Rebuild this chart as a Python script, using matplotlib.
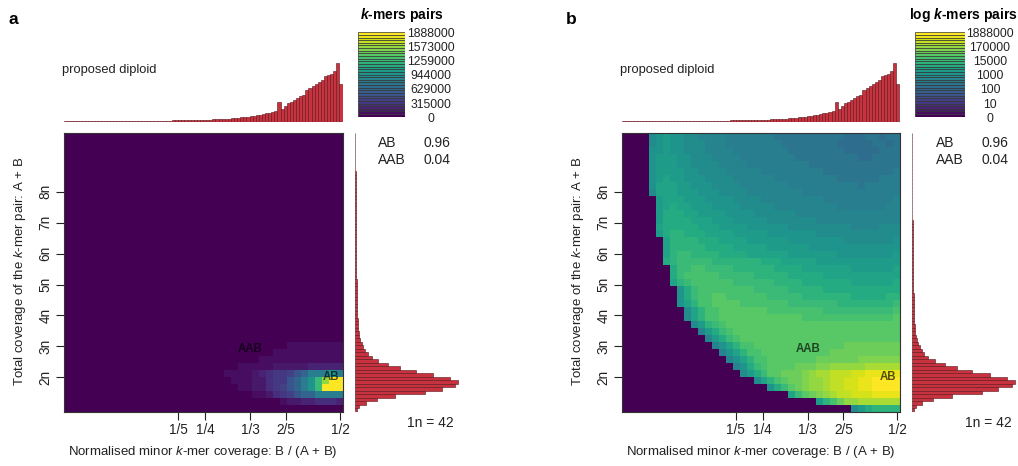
import numpy as np
import matplotlib
matplotlib.use("Agg")
import matplotlib.pyplot as plt
from matplotlib.patches import Rectangle

plt.rcParams['font.family'] = ['Liberation Sans', 'DejaVu Sans']
plt.rcParams['mathtext.fontset'] = 'custom'
plt.rcParams['mathtext.rm'] = 'Liberation Sans'
plt.rcParams['mathtext.it'] = 'Liberation Sans:italic'
plt.rcParams['mathtext.bf'] = 'Liberation Sans:bold:italic'

W, H = 1018, 466

# ---- data ----
one_n = 42
kmer_max = 1888000
ploidy_text = 'proposed diploid'
smudge_names = ['AB', 'AAB']
smudge_sizes = [0.96, 0.04]
smudge_x = [0.483, 0.334]      # B / (A + B)
smudge_y = [84, 122]           # A + B

x_ticks = [1/5, 1/4, 1/3, 2/5, 1/2]
x_tick_labels = ['1/5', '1/4', '1/3', '2/5', '1/2']
y_ticks_n = [2, 3, 4, 5, 6, 7, 8]

lin_labels = ['0', '315000', '629000', '944000', '1259000', '1573000', '1888000']
log_labels = ['0', '10', '100', '1000', '15000', '170000', '1888000']

# smudge grid, 40 x 40, top row first, value = 10*log10(k-mer pairs), 0 = empty
smudge_rows = [
    [0]*4 + [31,33,34,33,32,31,30,29,29,28,28,27,27,27,26,26,26,26,25,25,25,25,25,25,24,24,24,24,23,23,23,24,24,23,24,25],
    [0]*4 + [31,33,34,33,32,31,30,30,29,28,28,27,27,27,26,26,26,26,26,25,25,25,25,24,24,24,24,23,23,22,23,23,24,24,23,24],
    [0]*4 + [32,33,34,33,32,31,30,30,29,29,28,28,27,27,27,26,26,26,26,26,25,25,25,25,25,24,24,24,23,23,22,23,23,24,24,24],
    [0]*4 + [32,34,34,34,33,32,31,30,30,29,29,28,28,27,27,27,26,26,26,26,26,25,25,25,25,25,24,24,24,24,23,23,24,24,24,25],
    [0]*4 + [32,34,35,34,33,32,31,31,30,30,29,29,28,28,27,27,27,27,26,26,26,26,26,25,25,25,25,25,24,24,24,24,24,25,25,25],
    [0]*4 + [33,35,35,35,34,33,32,31,31,30,30,29,29,28,28,28,27,27,27,27,26,26,26,26,26,25,25,25,25,25,24,25,25,25,25,26],
    [0]*4 + [33,35,36,35,34,33,33,32,31,31,30,30,29,29,28,28,28,28,27,27,27,27,26,26,26,26,26,25,25,25,25,25,25,26,26,26],
    [0]*4 + [33,36,36,36,35,34,33,32,32,31,31,30,30,29,29,29,28,28,28,28,27,27,27,27,27,26,26,26,26,26,25,26,26,26,26,27],
    [0]*4 + [30,36,37,36,35,34,34,33,32,32,31,31,30,30,29,29,29,28,28,28,28,28,27,27,27,27,27,26,26,26,26,26,26,27,27,27],
    [0]*5 + [34,37,37,36,35,34,34,33,33,32,32,31,31,30,30,29,29,29,29,28,28,28,28,28,27,27,27,27,27,26,26,27,27,27,28],
    [0]*5 + [34,37,38,37,36,35,35,34,33,33,32,32,31,31,30,30,30,29,29,29,29,28,28,28,28,28,27,27,27,27,27,27,27,28,28],
    [0]*5 + [35,38,38,38,37,36,35,35,34,34,33,33,32,32,31,31,30,30,30,30,29,29,29,29,29,28,28,28,28,28,28,28,28,28,29],
    [0]*5 + [35,38,39,38,38,37,36,36,35,34,34,33,33,33,32,32,31,31,31,30,30,30,30,29,29,29,29,29,29,28,28,29,29,29,29],
    [0]*5 + [36,39,39,39,38,38,37,37,36,35,35,34,34,33,33,33,32,32,32,31,31,31,31,30,30,30,30,30,29,29,29,29,30,30,30],
    [0]*5 + [34,39,40,40,39,39,38,37,37,36,36,35,35,34,34,34,33,33,33,32,32,32,32,31,31,31,31,31,30,30,30,30,30,31,31],
    [0]*6 + [36,40,40,40,40,39,38,38,37,37,36,36,35,35,35,34,34,34,33,33,33,33,32,32,32,32,31,31,31,31,31,31,31,32],
    [0]*6 + [37,40,41,41,40,40,39,39,38,38,37,37,36,36,36,35,35,35,34,34,34,33,33,33,33,32,32,32,32,32,32,32,32,33],
    [0]*6 + [37,41,42,42,41,41,40,40,39,39,38,38,37,37,37,36,36,36,35,35,35,34,34,34,34,33,33,33,33,33,33,33,33,34],
    [0]*6 + [38,41,42,43,43,42,42,41,41,41,41,40,40,40,39,39,38,37,37,36,36,36,35,35,35,35,34,34,34,34,34,34,34,35],
    [0]*7 + [38,42,43,44,44,43,43,42,42,41,41,41,40,40,40,39,39,38,38,37,37,37,36,36,36,36,35,35,35,35,35,35,36],
    [0]*7 + [38,42,44,44,44,44,44,43,43,42,42,42,41,41,41,40,40,39,39,38,38,38,37,37,37,37,36,36,36,36,36,36,37],
    [0]*7 + [36,41,43,44,45,45,44,44,44,43,43,43,42,42,42,41,41,40,40,39,39,39,38,38,38,38,37,37,37,37,37,37,38],
    [0]*8 + [33,38,42,44,45,45,45,45,44,44,44,43,43,43,42,42,41,41,40,40,40,39,39,39,39,38,38,38,38,38,38,39],
    [0]*8 + [33,38,42,44,45,46,46,45,45,45,44,44,44,43,43,43,42,42,41,41,41,40,40,40,40,39,39,39,39,39,40,40],
    [0]*8 + [32,37,41,44,45,46,46,46,46,45,45,45,45,44,44,44,43,43,43,42,42,42,42,41,41,41,41,41,41,41,41,42],
    [0]*9 + [31,37,41,44,45,46,47,47,46,46,46,46,45,45,45,45,44,44,44,44,43,43,43,43,43,43,43,43,43,43,44],
    [0]*9 + [30,36,41,44,45,46,47,47,47,47,47,47,46,46,46,46,46,45,45,45,45,45,45,45,45,45,45,45,45,45,46],
    [0]*10 + [30,35,40,43,45,46,47,47,47,47,47,47,47,47,47,46,46,46,46,46,46,46,46,46,47,47,47,47,47,47],
    [0]*11 + [29,34,39,43,45,46,47,47,47,47,47,46,46,46,46,46,46,46,46,46,47,47,47,47,47,47,47,47,47],
    [0]*12 + [29,34,39,42,45,46,47,47,47,47,47,47,46,46,46,46,46,47,47,47,47,47,47,47,47,47,47,47],
    [0]*13 + [28,32,37,41,44,45,46,47,47,47,47,47,47,47,47,47,47,47,47,48,48,48,48,48,48,48,48],
    [0]*14 + [28,32,37,41,44,45,46,47,47,47,47,47,47,47,47,47,48,48,48,48,48,49,49,49,49,49],
    [0]*15 + [28,32,37,41,44,45,46,47,47,47,47,47,47,48,48,48,49,49,49,50,50,50,50,50,50],
    [0]*16 + [29,33,38,42,45,46,47,47,47,48,48,49,50,50,51,51,52,52,52,53,53,53,53,53],
    [0]*17 + [30,34,39,43,46,47,48,48,49,50,51,53,54,55,55,56,57,58,59,59,59,60,59],
    [0]*19 + [31,36,41,45,47,48,49,50,51,52,54,55,55,57,58,59,60,61,62,63,63],
    [0]*21 + [33,38,43,47,49,50,51,52,54,55,56,57,58,59,60,61,63,63,63],
    [0]*24 + [36,42,46,48,50,52,54,55,56,57,58,58,59,59,59,59],
    [0]*28 + [34,40,45,49,51,52,53,53,54,54,54,53],
    [0]*33 + [30,35,38,40,41,41,41],
]

# marginal histograms (relative bar heights)
top_hist = [0.6, 0.6, 0.7, 0.7, 0.7, 0.8, 0.8, 0.8, 0.9, 0.9,
            0.9, 1.0, 1.0, 1.0, 1.1, 1.1, 1.1, 1.2, 1.2, 1.2,
            1.3, 1.3, 1.3, 1.4, 1.4, 1.4, 1.5, 1.5, 1.5, 1.6,
            1.6, 1.6, 1.7, 1.7, 1.7, 1.8, 1.8, 1.8, 1.9, 3.0,
            2.1, 2.2, 2.4, 2.5, 2.7, 2.9, 3.1, 3.3, 3.5, 3.8,
            4.1, 4.4, 4.7, 5.0, 5.5, 6.0, 6.5, 7.5, 7.7, 8.3,
            9, 10, 10.5, 11, 12, 14, 15, 16, 18, 33,
            21, 27, 32, 34, 36, 40, 43, 46, 54, 57,
            61, 64, 68, 71, 77, 79, 82, 87, 100, 64]
# bottom bar first
right_hist = [2, 4, 10.7, 21.7, 40, 70, 86.7, 100, 103, 95,
              78, 60.7, 45, 33, 23, 16.7, 12.7, 10, 8.3, 6.7,
              5.3, 4, 3.5, 3.2, 2.9, 2.7, 2.5, 2.4, 2.3, 2.2,
              2.1, 2.0, 1.9, 1.8, 1.7, 1.6, 1.55, 1.5, 1.45, 1.4,
              1.35, 1.3, 1.25, 1.2, 1.15, 1.1, 1.05, 1.0, 1.0, 0.95,
              0.9, 0.9, 0.85, 0.8, 0.8, 0.75, 0.75, 0.7, 0.7, 0.65,
              0.65, 0.6, 0.6, 0.6, 0.55, 0.55, 0.5, 0.5, 0.5, 0.45,
              0.45, 0.45, 0.4, 0.4, 0.4, 0.35, 0.35, 0.3, 0, 0]

# ---- setup ----
cmap = matplotlib.colormaps['viridis'].resampled(32)
bar_col = '#c8323f'
bar_edge = '#5a141c'

grid = np.array(smudge_rows[::-1], dtype=float)
counts = np.where(grid > 0, 10 ** (grid / 10), 0)
log_counts = np.where(counts > 0, np.log10(np.maximum(counts, 1)), 0)

x_edges = np.linspace(-0.012, 0.504, grid.shape[1] + 1)
y_edges = np.linspace(37.5, 416, grid.shape[0] + 1)

fig = plt.figure(figsize=(W / 100, H / 100), dpi=100)


def box(x0, y0, x1, y1):
    return [x0 / W, 1 - y1 / H, (x1 - x0) / W, (y1 - y0) / H]


def label(x, y, s, **kw):
    kw.setdefault('ha', 'center')
    kw.setdefault('va', 'center')
    fig.text(x / W, 1 - y / H, s, **kw)


panels = [
    dict(letter='a', ox=0, heat=(63.5, 342.5), values=counts, vmax=kmer_max,
         title='$\\mathbf{k}$-mers pairs', title_x=402, cbar=(358, 405), cbar_lab_x=431,
         labels=lin_labels),
    dict(letter='b', ox=558, heat=(621.5, 899.5), values=log_counts, vmax=np.log10(kmer_max),
         title='log $\\mathbf{k}$-mers pairs', title_x=963, cbar=(915, 965), cbar_lab_x=990,
         labels=log_labels),
]

for p in panels:
    ox = p['ox']
    hx0, hx1 = p['heat']

    # smudge heatmap
    ax = fig.add_axes(box(hx0, 133, hx1, 411.5))
    ax.pcolormesh(x_edges, y_edges, p['values'], cmap=cmap, vmin=0, vmax=p['vmax'])
    ax.set_xlim(x_edges[0], x_edges[-1])
    ax.set_ylim(y_edges[0], y_edges[-1])
    ax.set_xticks(x_ticks, x_tick_labels)
    ax.set_yticks([n * one_n for n in y_ticks_n], [f'{n}n' for n in y_ticks_n],
                  rotation=90, va='center')
    ax.tick_params(length=6, width=0.8, pad=2, labelsize=9.8, colors='#222222')
    for s in ax.spines.values():
        s.set_linewidth(0.8)
        s.set_color('#333333')
    for name, sx, sy in zip(smudge_names, smudge_x, smudge_y):
        ax.text(sx, sy, name, ha='center', va='center', fontsize=8.3,
                fontweight='bold', color='black', alpha=0.65)

    # top histogram
    axt = fig.add_axes(box(hx0, 61, hx1, 121.5))
    axt.bar(np.arange(len(top_hist)) + 0.5, top_hist, width=1, color=bar_col,
            edgecolor=bar_edge, linewidth=0.4)
    axt.set_xlim(0, len(top_hist))
    axt.set_ylim(0, 103.5)
    axt.axis('off')

    # right histogram
    axr = fig.add_axes(box(355 + ox * 0.9977, 133, 461 + ox * 0.9977, 411.5))
    axr.barh(np.arange(len(right_hist)) + 0.5, right_hist, height=1, color=bar_col,
             edgecolor=bar_edge, linewidth=0.4)
    axr.set_ylim(0, len(right_hist))
    axr.set_xlim(0, 106)
    axr.axis('off')

    # legend
    cx0, cx1 = p['cbar']
    axc = fig.add_axes(box(cx0, 32.3, cx1, 116.7))
    for i in range(32):
        axc.add_patch(Rectangle((0, i), 1, 1, facecolor=cmap(i), edgecolor='#333333',
                                linewidth=0.5))
    axc.set_xlim(0, 1)
    axc.set_ylim(0, 32)
    axc.axis('off')
    for i, s in enumerate(p['labels']):
        label(p['cbar_lab_x'], 118.7 - i * 85 / 6, s, fontsize=8.7, color='#222222')
    label(p['title_x'], 15, p['title'], fontsize=10, fontweight='bold')

    # texts
    label(hx0 - 1.5, 70, ploidy_text, ha='left', fontsize=9.3, color='#222222')
    for k, (name, frac) in enumerate(zip(smudge_names, smudge_sizes)):
        label(378 + ox, 143 + 17 * k, name, ha='left', fontsize=10, color='#222222')
        label(423 + ox, 143 + 17 * k, f'{frac:.2f}', ha='left', fontsize=10, color='#222222')
    label(453.5 + ox, 423, f'1n = {one_n}', ha='right', fontsize=10, color='#222222')
    label(13 + ox, 19, p['letter'], fontsize=12.5, fontweight='bold')
    label(20 + ox, 271, 'Total coverage of the $\\mathit{k}$-mer pair: A + B',
          rotation=90, fontsize=9.5, color='#222222')
    label((hx0 + hx1) / 2, 452, 'Normalised minor $\\mathit{k}$-mer coverage: B / (A + B)',
          fontsize=9.5, color='#222222')

fig.savefig('out.png', dpi=100)
